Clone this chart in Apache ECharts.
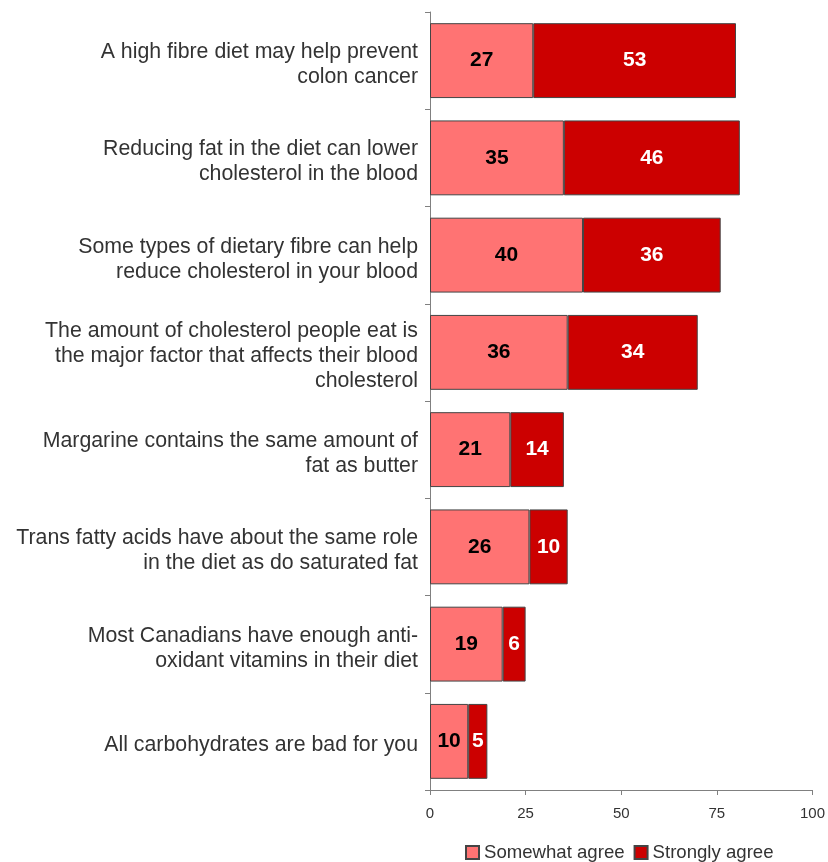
<!DOCTYPE html>
<html>
<head>
<meta charset="utf-8">
<script src="https://cdn.jsdelivr.net/npm/echarts@6/dist/echarts.min.js"></script>
<style>
  html, body { margin: 0; padding: 0; background: #fff; }
  #chart { width: 828px; height: 862px; }
</style>
</head>
<body>
<div id="chart"></div>
<script>
// Statements, listed top to bottom
const statements = [
  'A high fibre diet may help prevent\ncolon cancer',
  'Reducing fat in the diet can lower\ncholesterol in the blood',
  'Some types of dietary fibre can help\nreduce cholesterol in your blood',
  'The amount of cholesterol people eat is\nthe major factor that affects their blood\ncholesterol',
  'Margarine contains the same amount of\nfat as butter',
  'Trans fatty acids have about the same role\nin the diet as do saturated fat',
  'Most Canadians have enough anti-\noxidant vitamins in their diet',
  'All carbohydrates are bad for you'
];
const somewhatAgree = [27, 35, 40, 36, 21, 26, 19, 10];
const stronglyAgree = [53, 46, 36, 34, 14, 10, 6, 5];
const seriesNames = ['Somewhat agree', 'Strongly agree'];
const xTicks = { min: 0, max: 100, interval: 25 };

const FONT = 'Liberation Sans, Arial, sans-serif';
const chart = echarts.init(document.getElementById('chart'), null, { renderer: 'canvas' });

const barLabel = (color) => ({
  show: true,
  position: 'inside',
  color: color,
  fontFamily: FONT,
  fontWeight: 'bold',
  fontSize: 21
});

chart.setOption({
  animation: false,
  backgroundColor: '#ffffff',
  grid: { left: 430, right: 15, top: 12, bottom: 72, containLabel: false },
  legend: {
    data: seriesNames,
    top: 838,
    left: 460,
    itemWidth: 13,
    itemHeight: 13,
    itemGap: 9,
    textStyle: { fontFamily: FONT, fontSize: 18.6, color: '#333' },
    icon: 'rect'
  },
  xAxis: {
    type: 'value',
    min: xTicks.min,
    max: xTicks.max,
    interval: xTicks.interval,
    axisLine: { show: true, lineStyle: { color: '#808080', width: 1 } },
    axisTick: { show: true, length: 5, lineStyle: { color: '#808080' } },
    splitLine: { show: false },
    axisLabel: { fontFamily: FONT, fontSize: 15, color: '#333', margin: 16 }
  },
  yAxis: {
    type: 'category',
    inverse: true,
    data: statements,
    axisLine: { show: true, lineStyle: { color: '#808080', width: 1 } },
    axisTick: { show: true, length: 5, alignWithLabel: false, lineStyle: { color: '#808080' } },
    axisLabel: {
      fontFamily: FONT,
      fontSize: 21.3,
      lineHeight: 25,
      color: '#333',
      align: 'right',
      margin: 12,
      // a thin spacer line nudges each statement slightly below the band centre
      formatter: (v) => '{s| }\n' + v,
      rich: { s: { fontSize: 1, lineHeight: 8 } }
    }
  },
  series: [
    {
      name: seriesNames[0],
      type: 'bar',
      stack: 'agree',
      data: somewhatAgree,
      barCategoryGap: '23%',
      itemStyle: { color: '#FF7373', borderColor: '#444', borderWidth: 1 },
      label: barLabel('#000')
    },
    {
      name: seriesNames[1],
      type: 'bar',
      stack: 'agree',
      data: stronglyAgree,
      barCategoryGap: '23%',
      itemStyle: { color: '#CC0000', borderColor: '#444', borderWidth: 1 },
      label: barLabel('#fff')
    }
  ]
});
</script>
</body>
</html>
